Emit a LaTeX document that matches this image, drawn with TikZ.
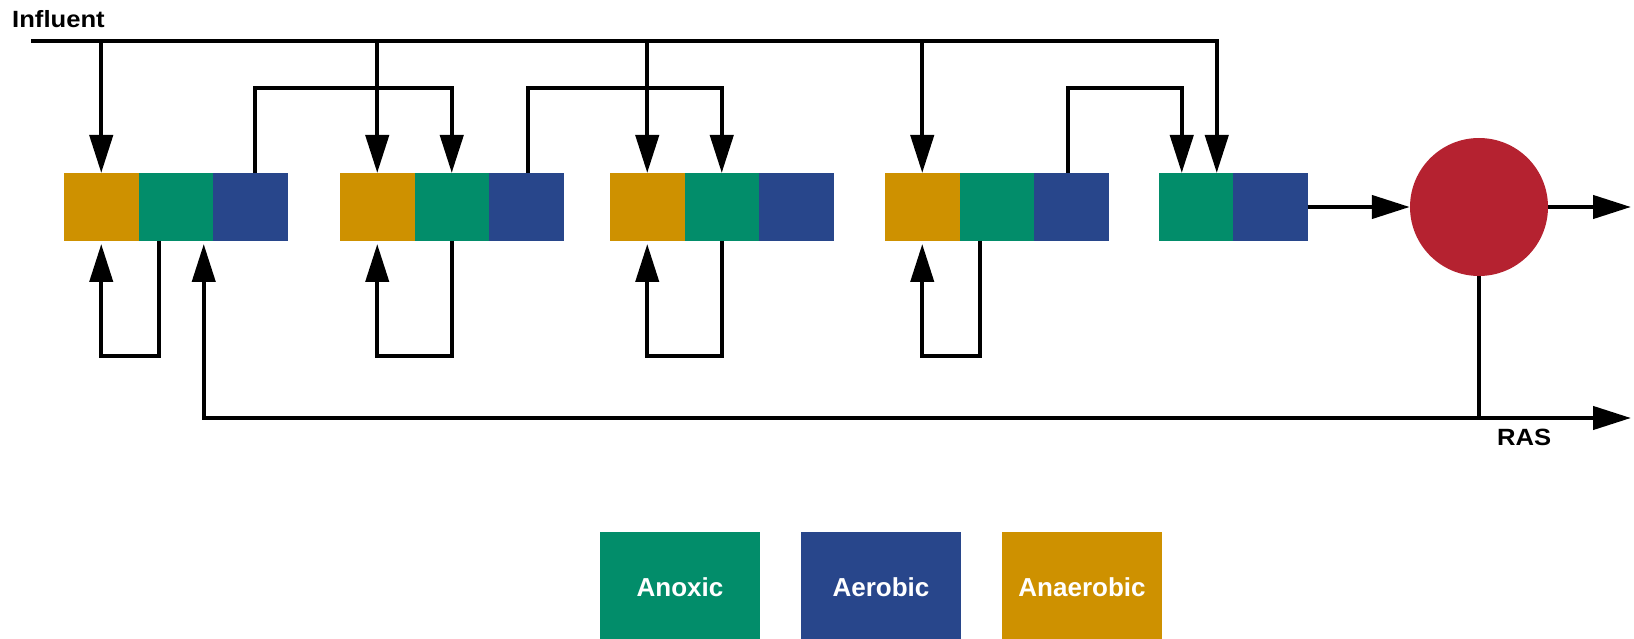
\documentclass[tikz,border=0pt]{standalone}
\usepackage{fontspec}
\setmainfont{Liberation Sans}
\usetikzlibrary{arrows.meta}
\definecolor{anaer}{HTML}{CE9100}
\definecolor{anox}{HTML}{028D6A}
\definecolor{aerob}{HTML}{28468B}
\definecolor{clar}{HTML}{B52230}
\newcommand\widetext[1]{\scalebox{1.09}[1]{#1}}
\begin{document}
\begin{tikzpicture}[x=1pt,y=-1pt,
  flow/.style={line width=4.3pt},
  arr/.style={flow,-{Triangle[length=38pt,width=23pt]}},
  cell/.style={minimum width=74.5pt,minimum height=68pt,inner sep=0pt,outer sep=0pt,draw=none},
  anaerobic/.style={cell,fill=anaer},
  anoxic/.style={cell,fill=anox},
  aerobic/.style={cell,fill=aerob},
  legend/.style={minimum width=160pt,minimum height=110pt,inner sep=0pt,text=white,
    font=\fontsize{26}{30}\selectfont\bfseries},
  label/.style={inner sep=0pt,font=\fontsize{23.5}{28}\selectfont\bfseries}]
\useasboundingbox (0,0) rectangle (1634,639);
\clip (0,0) rectangle (1634,639);

% reactor trains: anaerobic | anoxic | aerobic
\node[anaerobic] (b1a) at (101.25,207) {};
\node[anoxic,anchor=west] (b1x) at (b1a.east) {};
\node[aerobic,anchor=west] (b1o) at (b1x.east) {};
\node[anaerobic] (b2a) at (377.25,207) {};
\node[anoxic,anchor=west] (b2x) at (b2a.east) {};
\node[aerobic,anchor=west] (b2o) at (b2x.east) {};
\node[anaerobic] (b3a) at (647.25,207) {};
\node[anoxic,anchor=west] (b3x) at (b3a.east) {};
\node[aerobic,anchor=west] (b3o) at (b3x.east) {};
\node[anaerobic] (b4a) at (922.25,207) {};
\node[anoxic,anchor=west] (b4x) at (b4a.east) {};
\node[aerobic,anchor=west] (b4o) at (b4x.east) {};
\node[anoxic] (b5x) at (1195.75,207) {};
\node[aerobic,anchor=west] (b5o) at (b5x.east) {};

% clarifier
\node[circle,fill=clar,minimum size=138pt,inner sep=0pt] (sep) at (1479,207) {};

% influent header and feeds
\node[label,anchor=base west] (inf) at (12,27.7) {\widetext{Influent}};
\coordinate (head) at (31,41);
\coordinate (b5feed) at ([xshift=21pt]b5x.north);
\draw[arr] (head) -| (b5feed);
\draw[arr] (head -| b1a.north) -- (b1a.north);
\draw[arr] (head -| b2a.north) -- (b2a.north);
\draw[arr] (head -| b3a.north) -- (b3a.north);
\draw[arr] (head -| b4a.north) -- (b4a.north);

% forward transfers from aerobic to next anoxic zone
\coordinate (rec) at (0,88);
\coordinate (b5in) at ([xshift=-14pt]b5x.north);
\draw[arr] ([xshift=5pt]b1o.north) |- (b2x.north |- rec) -- (b2x.north);
\draw[arr] ([xshift=2pt]b2o.north) |- (b3x.north |- rec) -- (b3x.north);
\draw[arr] ([xshift=-3pt]b4o.north) |- (b5in |- rec) -- (b5in);

% internal recycles anoxic -> anaerobic
\coordinate (loop) at (0,356);
\draw[arr,shorten >=3pt] ([xshift=-17pt]b1x.south) |- (b1a.south |- loop) -- (b1a.south);
\draw[arr,shorten >=3pt] (b2x.south) |- (b2a.south |- loop) -- (b2a.south);
\draw[arr,shorten >=3pt] (b3x.south) |- (b3a.south |- loop) -- (b3a.south);
\draw[arr,shorten >=3pt] ([xshift=-17pt]b4x.south) |- (b4a.south |- loop) -- (b4a.south);

% to and from the clarifier
\coordinate (eff) at (1631,207);
\draw[arr] (b5o.east) -- (sep.west);
\draw[arr] (sep.east) -- (eff);

% return activated sludge
\coordinate (rasR) at (1631,418);
\coordinate (rasJ) at (sep.south |- rasR);
\coordinate (rasT) at ([xshift=28pt]b1x.south);
\draw[arr,shorten >=3pt] (sep.south) -- (rasJ) -| (rasT);
\draw[arr] (rasJ) -- (rasR);
\node[label,anchor=base west] (ras) at (1497,445) {\widetext{RAS}};

% legend
\node[legend,fill=anox] (lg1) at (680,587) {Anoxic};
\node[legend,fill=aerob] (lg2) at (881,587) {Aerobic};
\node[legend,fill=anaer] (lg3) at (1082,587) {Anaerobic};
\end{tikzpicture}
\end{document}
